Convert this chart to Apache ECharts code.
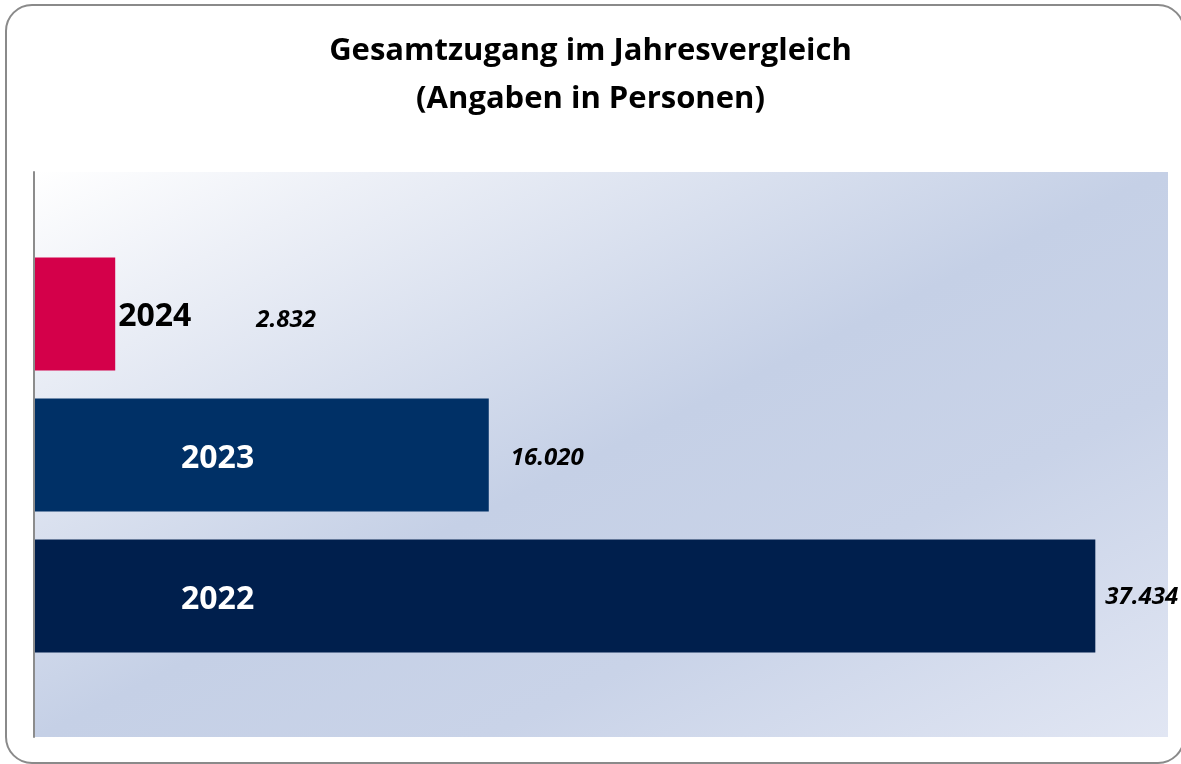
<!DOCTYPE html>
<html>
<head>
<meta charset="utf-8">
<script src="https://cdn.jsdelivr.net/npm/echarts@6/dist/echarts.min.js"></script>
<style>html,body{margin:0;padding:0;background:#fff;}#c{width:1181px;height:764px;}</style>
</head>
<body>
<div id="c"></div>
<script>
const years = ['2022', '2023', '2024'];
const values = [37434, 16020, 2832];
const barColors = ['#001f4d', '#003066', '#d4004a'];
const titleText = 'Gesamtzugang im Jahresvergleich\n(Angaben in Personen)';

function fmt(v) { return v.toLocaleString('de-DE'); }

const chart = echarts.init(document.getElementById('c'), null, { renderer: 'canvas' });

const yearData = values.map((v, i) => {
  const small = i === 2;
  return {
    value: v,
    itemStyle: { color: barColors[i] },
    label: small
      ? { position: 'right', distance: 3, color: '#000', offset: [0, 3] }
      : { position: [146, '50%'], color: '#fff', offset: [0, 4] }
  };
});
const valueDist = [10, 22, 141];
const valueOff = [[0, 1], [0, 3], [0, 6]];
const valueData = values.map((v, i) => ({
  value: v,
  label: { distance: valueDist[i], offset: valueOff[i] }
}));

chart.setOption({
  animation: false,
  title: {
    text: titleText,
    left: 'center',
    top: 22,
    textStyle: { fontFamily: 'Open Sans', fontWeight: 'bold', fontSize: 31, lineHeight: 48, color: '#000' }
  },
  graphic: [{
    type: 'rect', z: -10,
    shape: { x: 6, y: 5, width: 1178, height: 758, r: 26 },
    style: { fill: 'none', stroke: '#8a8a8a', lineWidth: 2 }
  }],
  grid: [
    { left: 34, right: 13, top: 172, bottom: 27, show: true, borderWidth: 0,
      backgroundColor: { type: 'linear', x: 0, y: 0, x2: 0.4, y2: 1.6, colorStops: [
        { offset: 0, color: '#ffffff' },
        { offset: 0.15, color: '#edf0f7' },
        { offset: 0.5, color: '#c5d0e6' },
        { offset: 0.7, color: '#c9d3e8' },
        { offset: 1, color: '#e1e6f3' }
      ] } },
    { left: 35, right: 13, top: 243.5, bottom: 97.5 }
  ],
  xAxis: [
    { gridIndex: 0, type: 'value', min: 0, max: 40000, show: false },
    { gridIndex: 1, type: 'value', min: 0, max: 40000, show: false }
  ],
  yAxis: [
    { gridIndex: 0, type: 'category', data: [''], axisLine: { show: true, lineStyle: { color: '#8c8c8c', width: 2 } },
      axisTick: { show: false }, axisLabel: { show: false }, splitLine: { show: false } },
    { gridIndex: 1, type: 'category', data: years, show: false }
  ],
  series: [
    {
      type: 'bar', xAxisIndex: 1, yAxisIndex: 1,
      barCategoryGap: '20%', barGap: '-100%',
      data: yearData,
      label: {
        show: true, align: 'left', verticalAlign: 'middle',
        fontFamily: 'Open Sans', fontWeight: 'bold', fontSize: 32,
        formatter: p => years[p.dataIndex]
      }
    },
    {
      type: 'bar', xAxisIndex: 1, yAxisIndex: 1,
      barCategoryGap: '20%', barGap: '-100%',
      itemStyle: { color: 'rgba(0,0,0,0)' },
      data: valueData,
      label: {
        show: true, position: 'right', color: '#000',
        fontFamily: 'Open Sans', fontWeight: 'bold', fontStyle: 'italic', fontSize: 24,
        formatter: p => fmt(p.value)
      }
    }
  ]
});
</script>
</body>
</html>
